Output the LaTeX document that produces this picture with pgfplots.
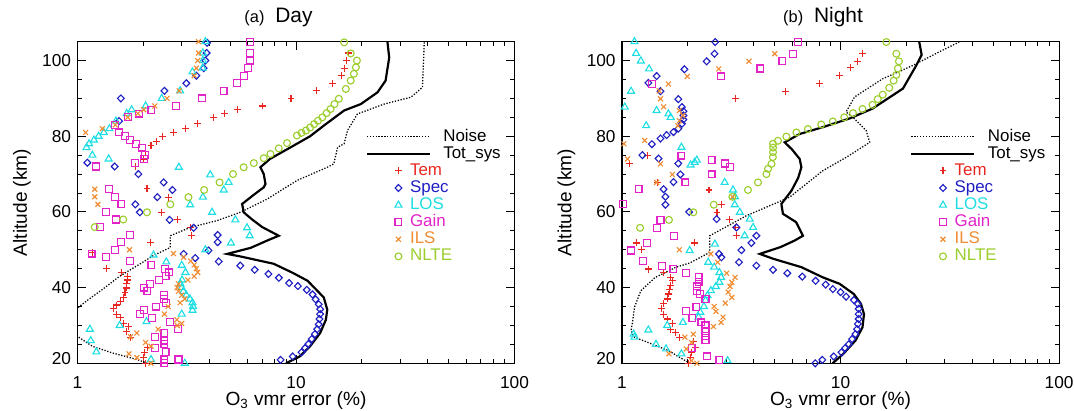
\documentclass[border=0pt]{standalone}
\usepackage{fontspec}
\setmainfont{Liberation Sans}
\usepackage{pgfplots}
\pgfplotsset{compat=1.18}

\definecolor{cTem}{RGB}{232,40,32}
\definecolor{cSpec}{RGB}{30,30,195}
\definecolor{cLOS}{RGB}{30,222,228}
\definecolor{cGain}{RGB}{225,35,200}
\definecolor{cILS}{RGB}{240,140,50}
\definecolor{cNLTE}{RGB}{155,205,45}

\pgfplotsset{
  every axis/.append style={
    scale only axis, width=240.4pt, height=176.9pt,
    xmin=1, xmax=100, ymin=20, ymax=105,
    xtick={1,10,100}, xticklabels={1,10,100},
    minor xtick={2,3,4,5,6,7,8,9,20,30,40,50,60,70,80,90},
    ytick={20,40,60,80,100}, yticklabels={\raisebox{5.5pt}{20},40,60,80,100},
    minor ytick={25,30,35,45,50,55,65,70,75,85,90,95,105},
    major tick length=4.5pt, minor tick length=2.4pt,
    tick style={line width=0.5pt, black},
    axis line style={line width=0.6pt},
    tick label style={font=\fontsize{9.5}{10}\selectfont},
    xticklabel style={yshift=-3.6pt},
    label style={font=\fontsize{10.5}{12}\selectfont},
    xlabel={O\textsubscript{3} vmr error (\%)},
    ylabel={Altitude (km)},
    xlabel style={at={(axis description cs:0.5,-0.131)}, anchor=base},
    ylabel style={at={(axis description cs:-0.116,0.5)}, anchor=base},
    title style={at={(axis description cs:0.46,1)}, anchor=base, yshift=4.5pt},
    legend cell align=left,
    legend style={at={(axis description cs:0.662,0.727)}, anchor=north west,
      draw=none, fill=none, inner sep=0pt, outer sep=0pt,
      font=\fontsize{9.3}{10}\selectfont,
      nodes={inner sep=0pt, text height=6.5pt, text depth=1.5pt},
      column sep=0pt, row sep=1.4pt},
  },
  noise/.style={black, line width=0.7pt, dash pattern=on 0.7pt off 0.9pt, mark=none,
    legend image code/.code={\path[draw=none,fill=none] (0pt,-1pt) rectangle (23.8pt,1pt);
      \draw[##1,overlay] (0pt,0pt) -- (34.7pt,0pt);}},
  tot/.style={black, line width=1.2pt, mark=none,
    legend image code/.code={\path[draw=none,fill=none] (0pt,-1pt) rectangle (23.8pt,1pt);
      \draw[##1,overlay] (0pt,0pt) -- (34.7pt,0pt);}},
  mk/.style={only marks, mark size=1.9pt, mark options={line width=0.62pt, solid},
    legend image code/.code={\path[draw=none,fill=none] (0pt,-1pt) rectangle (23.8pt,1pt);
      \draw[##1] plot coordinates {(17.4pt,0pt)};}},
  dia/.style={mark=diamond, mark options={line width=0.62pt, solid, xscale=1.3}},
}
\newcommand{\LL}[1]{\hspace*{18.3pt}#1}
\newcommand{\LM}[2]{\textcolor{#1}{#2}}

\begin{document}
\begin{tikzpicture}
\path[use as bounding box] (0,0) rectangle (590.7pt,225.5pt);

% ---------------- (a) Day ----------------
\begin{semilogxaxis}[at={(42.6pt,25.7pt)}, anchor=south west,
  title={{\fontsize{9}{10}\selectfont (a)}\hspace{6pt}{\fontsize{11.5}{12}\selectfont Day}}]
\addplot[noise] coordinates {(2.09,20) (1.87,21) (1.45,22.7) (1.17,24.5) (1.0,27.1) (0.85,29) (0.85,33) (1.0,34.6) (1.12,36.8) (1.30,39.5) (1.56,43) (1.94,46.3) (2.23,48.5) (2.66,50.6) (2.66,53.7) (3.28,55.9) (4.35,57.7) (5.56,59.9) (7.38,63.4) (10.1,68.3) (13.9,71.8) (14.9,72.7) (15.5,77.1) (16.6,78) (17.2,81.5) (19.1,85.9) (25.3,88.5) (33.5,90.3) (37.9,92.9) (38.6,104.4) (38.6,105)};
\addlegendentry{\LL{Noise}}
\addplot[tot] coordinates {(9.0,20) (10.4,21.8) (11.6,24.5) (12.9,28) (13.7,31.5) (13.9,34.2) (13.4,37.4) (11.3,41.8) (9.66,43.9) (7.9,46.3) (5.6,48.2) (4.84,48.9) (6.2,50.5) (7.5,52.6) (8.34,53.7) (7.0,56) (6.3,58) (5.76,59.9) (5.67,62.1) (6.4,64.5) (7.12,66.5) (7.25,67.4) (7.12,70) (6.87,71.8) (7.6,74) (9.6,77.3) (11.6,80) (13.4,82.8) (16.6,86.8) (19.8,88.5) (23.6,91.6) (25.7,94.7) (26.7,100.8) (26.2,105)};
\addlegendentry{\LL{Tot\_sys}}
\addplot[mk, cTem, mark=+] coordinates {(2.04,20) (2.0,21.6) (2.02,22.9) (2.1,24.2) (1.75,26.9) (1.68,28.4) (1.71,29.7) (1.63,30.6) (1.57,32) (1.51,33) (1.46,34.4) (1.51,35.4) (1.57,36.4) (1.62,37.4) (1.65,38.8) (1.68,39.9) (1.68,41) (1.69,42) (1.69,43) (1.59,44) (1.36,45) (1.17,49.3) (2.15,52) (3.34,53.7) (3.3,55.9) (2.87,57.9) (2.43,59.9) (2.61,63.9) (2.08,66.1) (1.85,72) (2.01,74) (2.05,76) (2.17,77.5) (2.29,78.5) (2.46,80) (2.75,81) (3.12,82) (3.55,83.3) (4.18,85) (4.71,86) (5.39,87) (7.01,88) (9.49,90) (12.4,92) (14.7,94) (16.1,96) (16.7,98) (17.1,100) (17.4,102)};
\addlegendentry{\LM{cTem}{Tem}}
\addplot[mk, cSpec, dia] coordinates {(7.6,19.9) (8.5,20.9) (9.66,21.8) (10.6,22.9) (11.0,24) (11.4,25.1) (11.8,26.4) (12.2,27.7) (12.5,29) (12.7,30.3) (12.8,31.7) (12.9,33) (12.9,34.3) (12.7,35.6) (12.3,36.9) (11.9,38.2) (11.2,39.4) (10.2,40.4) (9.3,41.2) (8.35,42.6) (7.48,43.6) (6.47,44.7) (5.56,45.8) (4.43,46.9) (3.46,47.8) (3.06,48.9) (3.98,49.8) (4.38,52) (4.38,53.9) (3.40,55.8) (2.64,57.9) (1.93,59.9) (1.84,62) (2.32,63.9) (2.72,65.8) (2.48,67.8) (1.9,70) (1.48,72) (1.11,73) (1.55,84) (1.58,90) (2.5,92) (3.15,94) (3.5,96) (3.78,98) (3.85,100) (3.9,102) (3.92,104.7)};
\addlegendentry{\LM{cSpec}{Spec}}
\addplot[mk, cLOS, mark=triangle, mark size=2.2pt] coordinates {(3.1,20) (2.17,21) (1.22,23) (1.15,26) (1.14,29) (1.56,30) (2.07,31) (3.0,33) (3.36,34) (3.38,35) (3.36,36) (3.27,37) (3.15,38) (3.05,39) (3.0,40) (2.96,41) (3.01,42) (3.12,44) (3.0,45.9) (2.55,46.8) (2.23,48.6) (3.85,50) (5.04,51.8) (6.14,53.7) (5.97,55.8) (5.28,57.9) (4.13,59.9) (3.28,61.9) (3.75,63.9) (4.67,65.8) (4.92,67.8) (4.05,69.8) (2.91,71.8) (1.39,74) (1.17,75) (1.10,77) (1.13,78) (1.19,79) (1.25,80) (1.32,81) (1.40,82) (1.50,84) (1.68,86) (1.77,87) (2.05,88) (2.43,90) (2.95,92) (3.36,97) (3.74,98) (3.75,100) (3.75,102) (3.85,105)};
\addlegendentry{\LM{cLOS}{LOS}}
\addplot[mk, cGain, mark=square] coordinates {(2.5,20) (2.5,21) (2.9,21) (2.53,23) (2.26,24) (2.5,25) (2.5,26) (2.27,27) (2.5,28) (2.88,29) (2.65,31) (2.19,32) (1.94,33) (2.01,34) (2.29,35) (2.55,36) (2.49,37) (2.49,38) (2.09,39) (2.01,40) (2.15,41) (2.37,42) (2.53,43) (2.62,44) (2.51,45) (2.18,46) (1.74,47) (1.35,48) (1.16,49) (1.49,50) (1.58,52) (1.74,54) (1.27,56) (1.50,58) (1.35,60) (1.59,62) (1.48,64) (1.40,66) (1.22,72) (1.84,73) (2.02,74) (2.03,75) (1.98,77) (1.86,78) (1.74,79) (1.65,80) (1.55,81) (1.49,83) (1.71,85) (1.91,86) (2.18,87) (2.83,88) (3.72,90) (4.66,92) (5.39,94) (5.80,96) (6.01,98) (6.17,100) (6.17,102) (6.17,105)};
\addlegendentry{\LM{cGain}{Gain}}
\addplot[mk, cILS, mark=x] coordinates {(2.17,20) (1.87,21.5) (1.72,22.5) (2.17,24.5) (2.05,25.5) (1.75,27) (1.87,28) (2.34,29) (2.86,30) (3.0,30.5) (2.85,31.5) (2.5,33) (2.6,35) (2.95,36) (3.1,37) (3.0,38) (2.9,39) (2.86,40) (2.9,41) (3.2,42) (3.42,43) (3.55,44) (3.5,45) (3.42,46) (3.3,47) (3.06,48) (2.75,49) (1.73,50) (1.24,62) (1.20,64) (1.20,66) (1.09,81) (1.30,82) (1.49,83) (1.70,85) (1.89,86) (2.01,87) (2.26,88) (2.57,90) (2.92,92) (3.42,96) (3.5,98) (3.55,100) (3.58,102) (3.58,105)};
\addlegendentry{\LM{cILS}{ILS}}
\addplot[mk, cNLTE, mark=o] coordinates {(1.20,56) (1.62,58) (2.08,59.9) (2.66,62) (3.22,63.9) (3.80,65.8) (4.47,67.8) (5.15,70) (5.76,71.8) (6.41,72.9) (7.12,74.2) (7.64,75.3) (8.34,76.8) (9.1,78.2) (10.1,80.2) (10.6,80.9) (11.1,81.5) (11.6,82.3) (12.1,83.2) (12.6,84.1) (13.2,85) (13.8,86.1) (14.4,87.2) (15.0,88.5) (15.7,89.9) (16.9,92.5) (17.8,94.7) (18.4,96.5) (18.8,98.2) (19.0,100) (17.8,101.9) (16.6,104.8)};
\addlegendentry{\LM{cNLTE}{NLTE}}
\end{semilogxaxis}

% ---------------- (b) Night ----------------
\begin{semilogxaxis}[at={(342.1pt,25.7pt)}, anchor=south west,
  title={{\fontsize{9}{10}\selectfont (b)}\hspace{6pt}{\fontsize{11.5}{12}\selectfont Night}}]
\addplot[noise] coordinates {(2.05,20) (1.83,21.6) (1.64,23.3) (1.37,25.1) (1.14,26.9) (1.10,28.6) (1.12,31.3) (1.14,34.8) (1.22,39.2) (1.42,42.7) (1.77,45.4) (2.04,46.5) (2.52,49.3) (2.52,53.7) (3.71,59) (5.85,63.9) (8.3,70.9) (10.6,74.4) (13.6,78.4) (13.1,81.5) (11.4,85) (10.6,86.4) (11.6,90.4) (15.6,95.2) (21.4,98.7) (28.3,102.3) (34.9,104.9)};
\addlegendentry{\LL{Noise}}
\addplot[tot] coordinates {(9.2,20) (10.3,22.5) (11.7,26) (12.6,29.5) (12.8,33) (12.4,35.7) (11.5,38.3) (9.9,41) (8.3,42.7) (6.62,45.4) (4.93,47.6) (4.27,48.9) (5.31,50.7) (6.15,52.4) (6.73,53.7) (6.26,57.3) (5.45,59.5) (5.36,62.1) (5.96,65.6) (6.4,69) (6.62,71.8) (6.5,74) (6.0,76.5) (5.55,78.4) (6.5,80.6) (8.3,82.4) (11.0,84.7) (14.0,87.3) (19.3,92.6) (22.2,98.7) (23.5,101.5) (22.9,105)};
\addlegendentry{\LL{Tot\_sys}}
\addplot[mk, cTem, mark=+] coordinates {(2.01,20) (2.05,21.6) (2.08,22.9) (2.16,24.2) (2.12,25.8) (1.83,26.9) (1.75,28.2) (1.67,29) (1.70,30.6) (1.62,31.7) (1.55,33) (1.52,34.4) (1.55,35.7) (1.61,37) (1.63,38.3) (1.65,39.4) (1.67,40.5) (1.70,41.8) (1.67,42.7) (1.55,44) (1.32,44.9) (1.23,50) (1.17,51.8) (2.15,51.8) (3.34,53.7) (3.3,55.9) (3.09,58) (2.72,59.9) (2.85,61.9) (2.50,65.8) (1.46,67.8) (1.08,72.9) (1.31,74.9) (3.31,89.9) (5.61,91.9) (8.02,93.9) (9.89,96.1) (11.1,98.2) (11.9,99.8) (12.6,101.8)};
\addlegendentry{\LM{cTem}{Tem}}
\addplot[mk, cSpec, dia] coordinates {(7.66,20) (8.25,20.9) (9.3,21.8) (10.1,22.9) (10.5,24) (10.9,25) (11.3,26.4) (11.7,27.7) (11.9,29) (12.0,30.4) (12.1,31.7) (12.1,33) (12.1,34.4) (12.0,35.7) (11.5,36.7) (10.6,37.6) (10.0,38.8) (9.22,39.6) (8.55,40.8) (7.69,41.8) (6.68,42.9) (5.71,43.8) (4.91,44.7) (4.12,45.8) (3.43,46.7) (2.85,48) (2.78,48.9) (3.52,49.9) (3.91,51.8) (4.12,53.7) (3.34,55.9) (2.71,58.1) (2.03,60) (1.58,61.9) (1.58,64) (1.55,66) (1.72,67.9) (1.85,69.9) (1.81,72.8) (1.47,74.1) (1.24,75) (1.37,77.9) (1.50,79.4) (1.60,80.3) (1.72,81.1) (1.81,82) (1.88,83.3) (1.91,84.4) (1.91,85.5) (1.91,86.6) (1.88,87.7) (1.81,89.8) (1.50,91.9) (1.32,94.1) (1.44,95.9) (1.93,97.7) (2.44,99.8) (2.65,101.8) (2.67,104.9)};
\addlegendentry{\LM{cSpec}{Spec}}
\addplot[mk, cLOS, mark=triangle, mark size=2.2pt] coordinates {(3.04,20.7) (1.87,22.5) (1.59,23.8) (1.43,25) (1.14,26.9) (1.13,27.7) (1.32,28.8) (1.61,30) (1.90,30.8) (2.24,32.2) (2.28,33.5) (2.37,35) (2.41,36.6) (2.46,37.9) (2.55,39.2) (2.69,40.3) (2.79,41.4) (2.84,42.7) (2.79,44) (2.64,45.4) (2.48,46.7) (2.04,49.8) (2.66,51.5) (3.64,53.7) (3.98,55.9) (3.84,58.1) (3.46,59.9) (3.28,61.9) (3.29,64) (3.22,65.8) (2.95,67.8) (2.06,72.4) (2.15,73.1) (2.20,73.7) (1.87,77.1) (1.29,82.8) (1.67,85) (1.63,85.9) (1.44,86.8) (1.03,87.7) (1.10,91.9) (1.33,97.8) (1.22,99.9) (1.16,101.9) (1.14,105)};
\addlegendentry{\LM{cLOS}{LOS}}
\addplot[mk, cGain, mark=square] coordinates {(2.79,20.9) (2.44,21.8) (2.08,24) (2.41,26.2) (2.41,27.3) (2.41,28.6) (2.41,30) (2.31,30.8) (2.10,31.9) (1.97,33.9) (2.19,34.8) (2.41,37) (2.28,38.3) (2.20,39.2) (2.20,40.3) (2.24,41.4) (2.24,42.7) (1.97,43.8) (1.72,45) (1.53,45.8) (1.25,47.1) (1.10,49.8) (1.30,51.8) (1.73,53.7) (1.44,55.8) (1.50,57.9) (1.01,62) (1.19,66) (1.95,67.8) (2.57,69.9) (3.11,71.8) (2.95,72.8) (2.57,73.7) (1.87,74.9) (1.37,93.8) (2.83,95.8) (4.30,97.9) (5.42,99.8) (6.06,101.8) (6.38,104.9)};
\addlegendentry{\LM{cGain}{Gain}}
\addplot[mk, cILS, mark=x] coordinates {(2.20,20) (2.08,20.7) (1.64,22.5) (1.97,23.8) (2.08,25.5) (1.94,26.9) (2.12,27.7) (2.62,29.7) (2.84,30.8) (2.90,32.2) (2.69,33.7) (2.64,35) (2.97,35.9) (3.18,37.4) (3.06,38.8) (3.12,40.3) (3.18,41.4) (3.29,42.7) (3.01,43.8) (2.74,46.7) (2.55,48.9) (1.83,50) (3.21,64) (1.44,67.8) (1.70,69.9) (1.50,72.7) (1.06,74) (1.02,78) (1.27,78.9) (1.80,82.8) (1.83,84.1) (1.90,85.5) (1.83,86.8) (1.55,87.8) (1.50,89.9) (1.48,92) (1.63,93.8) (1.99,95.8) (2.77,97.8) (3.81,99.8) (5.0,101.8)};
\addlegendentry{\LM{cILS}{ILS}}
\addplot[mk, cNLTE, mark=o] coordinates {(1.21,55.8) (1.64,57.9) (2.12,59.9) (2.63,61.9) (3.2,64) (3.77,65.8) (4.19,67.8) (4.58,70) (4.66,71.4) (4.83,72.7) (4.9,74.5) (4.91,75.8) (4.91,77) (4.91,78) (5.17,78.8) (5.65,79.9) (6.28,81) (7.09,81.9) (8.16,83.1) (9.22,83.9) (10.4,85) (11.4,86.1) (12.6,87.2) (14.0,88.3) (14.8,89.8) (15.6,91) (16.7,92.8) (17.5,94.7) (18.0,96.2) (18.3,97.9) (18.5,99.8) (18.0,101.8) (16.2,104.9)};
\addlegendentry{\LM{cNLTE}{NLTE}}
\end{semilogxaxis}
\end{tikzpicture}
\end{document}
